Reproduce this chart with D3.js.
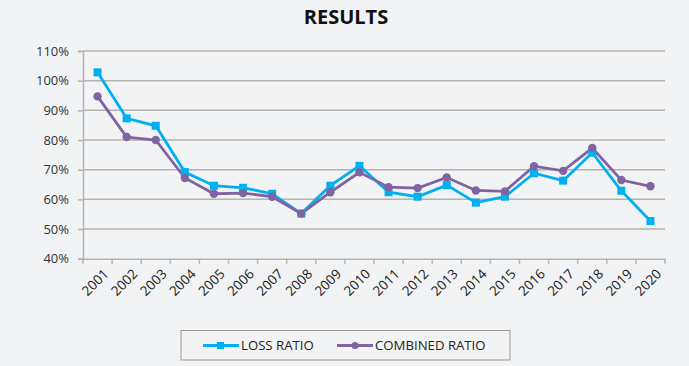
<!DOCTYPE html>
<html><head><meta charset="utf-8">
<script src="https://cdn.jsdelivr.net/npm/d3@7"></script>
<style>
html,body{margin:0;padding:0;background:#f2f3f5;}
svg{display:block;font-family:"Open Sans","Liberation Sans",sans-serif;}
</style></head>
<body><svg id="c" width="689" height="366"></svg>
<script>
const years = ["2001","2002","2003","2004","2005","2006","2007","2008","2009","2010","2011","2012","2013","2014","2015","2016","2017","2018","2019","2020"];
const lossRatio = [102.8,87.3,84.8,69.2,64.6,63.9,61.9,55.2,64.6,71.3,62.4,60.9,64.8,58.9,60.9,68.8,66.3,75.7,62.9,52.7];
const combinedRatio = [94.7,81.0,80.0,67.2,61.9,62.1,60.9,55.2,62.4,69.1,64.1,63.8,67.4,63.0,62.7,71.2,69.6,77.3,66.5,64.4];
const yTicks = [40,50,60,70,80,90,100,110];
const seriesNames = ["LOSS RATIO","COMBINED RATIO"];

const svg = d3.select("#c");
const x = d3.scaleBand().domain(years).range([83,665]);
const y = d3.scaleLinear().domain([40,110]).range([258.7,51]);
const blue = "#00b0f0", purple = "#8064a2", grid = "#b3b3b3", txt = "#333";

svg.append("text").attr("x",346).attr("y",24).attr("text-anchor","middle")
  .attr("font-size",20).attr("font-weight","bold").attr("fill","#111").text("RESULTS");

// gridlines
svg.append("g").selectAll("line").data(yTicks.filter(d=>d>40)).join("line")
  .attr("x1",83).attr("x2",665).attr("y1",d=>y(d)).attr("y2",d=>y(d))
  .attr("stroke",grid).attr("stroke-width",1.5);

// y axis
const ya = svg.append("g").attr("transform","translate(83,0)")
  .call(d3.axisLeft(y).tickValues(yTicks).tickFormat(d=>d+"%").tickSize(5).tickPadding(9));
ya.select(".domain").attr("stroke",grid).attr("stroke-width",1.5);
ya.selectAll(".tick line").attr("stroke",grid).attr("stroke-width",1.5);
ya.selectAll("text").attr("font-size",13).attr("fill",txt).attr("font-family","'Open Sans','Liberation Sans',sans-serif");

// x axis
const xa = svg.append("g").attr("transform","translate(0,258.7)")
  .call(d3.axisBottom(x).tickSize(0).tickFormat(""));
xa.select(".domain").attr("stroke",grid).attr("stroke-width",1.5);
const bounds = years.map(d=>x(d)).concat([x.range()[1]]);
xa.selectAll(".bt").data(bounds).join("line").attr("class","bt")
  .attr("x1",d=>d).attr("x2",d=>d).attr("y1",0).attr("y2",5)
  .attr("stroke",grid).attr("stroke-width",1.5);
svg.append("g").selectAll("text").data(years).join("text")
  .attr("transform",d=>`translate(${x(d)+x.bandwidth()/2+5},268) rotate(-45)`)
  .attr("text-anchor","end").attr("dy","0.72em")
  .attr("font-size",13.5).attr("fill","#1a1a1a").text(d=>d);

const line = d3.line().x((d,i)=>x(years[i])+x.bandwidth()/2).y(d=>y(d));
svg.append("path").datum(lossRatio).attr("d",line).attr("fill","none").attr("stroke",blue).attr("stroke-width",2.8);
svg.append("path").datum(combinedRatio).attr("d",line).attr("fill","none").attr("stroke",purple).attr("stroke-width",2.8);
svg.append("g").selectAll("rect").data(lossRatio).join("rect")
  .attr("x",(d,i)=>x(years[i])+x.bandwidth()/2-4).attr("y",d=>y(d)-4)
  .attr("width",8).attr("height",8).attr("fill",blue);
svg.append("g").selectAll("circle").data(combinedRatio).join("circle")
  .attr("cx",(d,i)=>x(years[i])+x.bandwidth()/2).attr("cy",d=>y(d)).attr("r",4.2).attr("fill",purple);

// legend
const lg = svg.append("g");
lg.append("rect").attr("x",181).attr("y",330.5).attr("width",329).attr("height",29.5)
  .attr("fill","none").attr("stroke","#999").attr("stroke-width",1);
const items = [{n:seriesNames[0],c:blue,x0:203,m:"s"},{n:seriesNames[1],c:purple,x0:337,m:"c"}];
items.forEach(it=>{
  const cy = 345.5;
  lg.append("line").attr("x1",it.x0).attr("x2",it.x0+36).attr("y1",cy).attr("y2",cy).attr("stroke",it.c).attr("stroke-width",2.8);
  if(it.m==="s") lg.append("rect").attr("x",it.x0+14).attr("y",cy-3.5).attr("width",7).attr("height",7).attr("fill",it.c);
  else lg.append("circle").attr("cx",it.x0+18).attr("cy",cy).attr("r",3.5).attr("fill",it.c);
  lg.append("text").attr("x",it.x0+38).attr("y",cy).attr("dy","0.36em").attr("font-size",13.2).attr("fill","#222").text(it.n);
});
</script></body></html>
